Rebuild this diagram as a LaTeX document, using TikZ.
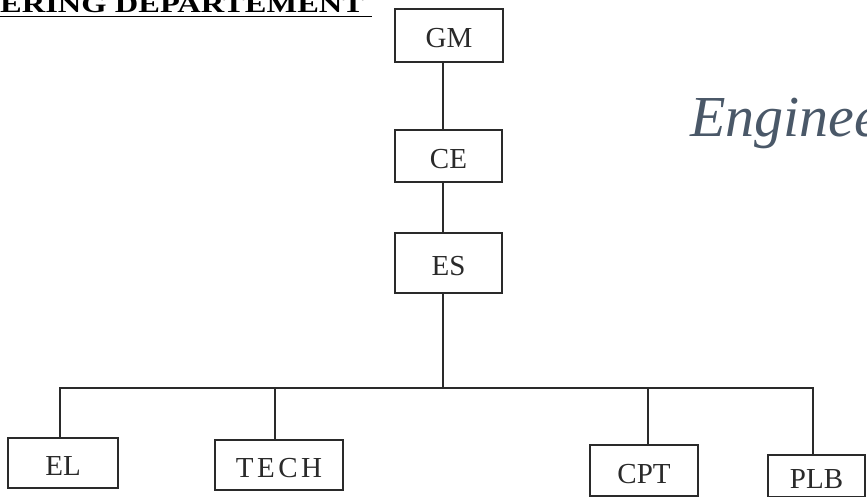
\documentclass[tikz,border=0pt]{standalone}
\usepackage{graphicx}
\usepackage{fontspec}
\setmainfont{Liberation Serif}
\newfontfamily\spacedfont[LetterSpace=12]{Liberation Serif}
\definecolor{inkline}{HTML}{2A2A2A}
\definecolor{handink}{HTML}{4A5868}
\begin{document}
\begin{tikzpicture}[x=1pt,y=-1pt,
  orgbox/.style={draw=inkline, line width=1.1pt, inner sep=0pt, font=\fontsize{29}{32}\selectfont, text=inkline, text height=25pt, text depth=0pt},
  link/.style={draw=inkline, line width=1.1pt}]
\useasboundingbox (0,0) rectangle (867,497);
\clip (0,0) rectangle (867,497);
\fill[white] (0,0) rectangle (867,497);
% title
\node[anchor=base west, inner sep=0pt, text=black] (title) at (0,13)
  {\scalebox{1.3}[1]{\fontsize{25}{28}\selectfont\bfseries ERING DEPARTEMENT}};
\draw[line width=1.6pt] (title.base west) ++(0,3.5) coordinate (ul1) -- (ul1 -| 372,0);
% boxes
\node[orgbox, minimum width=108pt, minimum height=53pt] (GM) at (449,35.5) {GM};
\node[orgbox, minimum width=107pt, minimum height=52pt] (CE) at (448.5,156) {CE};
\node[orgbox, minimum width=107pt, minimum height=60pt] (ES) at (448.5,263) {ES};
\node[orgbox, minimum width=110pt, minimum height=50pt] (EL) at (63,463) {EL};
\node[orgbox, minimum width=128pt, minimum height=50pt] (TECH) at (279,465) {\spacedfont TECH};
\node[orgbox, minimum width=108pt, minimum height=51pt] (CPT) at (644,470.5) {CPT};
\node[orgbox, minimum width=97pt, minimum height=42pt] (PLB) at (816.5,476) {PLB};
% bus coordinates
\coordinate (stem) at (443,0);
\coordinate (bEL) at (60,388);
\coordinate (bTECH) at (275,388);
\coordinate (bCPT) at (648,388);
\coordinate (bPLB) at (813,388);
% connectors
\draw[link] (GM.south -| stem) -- (CE.north -| stem);
\draw[link] (CE.south -| stem) -- (ES.north -| stem);
\draw[link] (ES.south -| stem) -- (stem |- bEL);
\draw[link] (EL.north -| bEL) -- (bEL) -- (bPLB) -- (PLB.north -| bPLB);
\draw[link] (bTECH) -- (TECH.north -| bTECH);
\draw[link] (bCPT) -- (CPT.north -| bCPT);
% handwriting
\node[anchor=base west, inner sep=0pt, text=handink, font=\fontsize{58}{62}\selectfont\itshape] (hand) at (690,137) {Enginee};
\end{tikzpicture}
\end{document}
